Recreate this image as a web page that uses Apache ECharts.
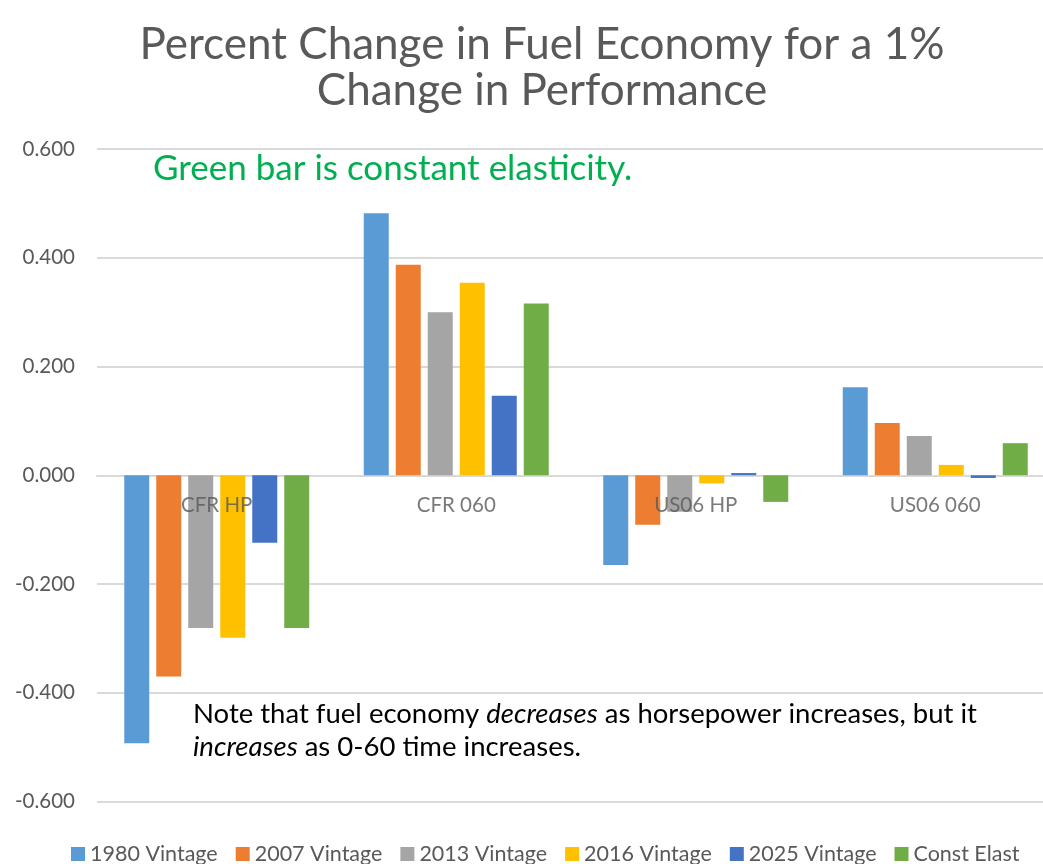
<!DOCTYPE html>
<html>
<head>
<meta charset="utf-8">
<script src="https://cdn.jsdelivr.net/npm/echarts@6/dist/echarts.min.js"></script>
<style>
html,body{margin:0;padding:0;background:#fff;overflow:hidden;width:1043px;height:864px;}
#chart{width:1060px;height:864px;}
</style>
</head>
<body>
<div id="chart"></div>
<script>
const categories = ['CFR HP', 'CFR 060', 'US06 HP', 'US06 060'];
const seriesNames = ['1980 Vintage', '2007 Vintage', '2013 Vintage', '2016 Vintage', '2025 Vintage', 'Const Elast'];
const v1980 = [-0.493, 0.482, -0.165, 0.162];
const v2007 = [-0.370, 0.387, -0.091, 0.096];
const v2013 = [-0.281, 0.300, -0.067, 0.072];
const v2016 = [-0.299, 0.354, -0.015, 0.019];
const v2025 = [-0.124, 0.146, 0.004, -0.005];
const vConst = [-0.281, 0.316, -0.049, 0.059];
const colors = ['#5B9BD5', '#ED7D31', '#A5A5A5', '#FFC000', '#4472C4', '#70AD47'];

const FONT = 'Lato';
const allValues = [v1980, v2007, v2013, v2016, v2025, vConst];

const barSeries = seriesNames.map((n, i) => ({
  name: n, type: 'bar', data: allValues[i],
  barWidth: 25, barGap: '28%',
  itemStyle: {color: colors[i]}
}));

// category labels drawn at the zero line (as the axis crosses at zero)
const catLabelSeries = {
  name: '_catLabels', type: 'scatter', silent: true, symbolSize: 0,
  data: categories.map(c => [c, 0]),
  z: 10,
  label: {
    show: true, position: 'bottom', distance: 20,
    formatter: p => p.data[0],
    fontFamily: FONT, fontSize: 20.5, color: '#595959'
  }
};

const chart = echarts.init(document.getElementById('chart'), null, {renderer: 'canvas'});
chart.setOption({
  animation: false,
  color: colors,
  textStyle: {fontFamily: FONT},
  title: {
    text: 'Percent Change in Fuel Economy for a 1%\nChange in Performance',
    left: 537, textAlign: 'center', top: 17,
    textStyle: {fontFamily: FONT, fontSize: 44, fontWeight: 'normal', color: '#595959', lineHeight: 46}
  },
  legend: {
    top: 838, left: 66,
    itemWidth: 14, itemHeight: 14, itemGap: 18,
    icon: 'rect',
    textStyle: {fontFamily: FONT, fontSize: 21.5, color: '#595959'},
    data: seriesNames
  },
  grid: {left: 97, top: 149, width: 958, height: 652.5, containLabel: false},
  xAxis: {
    type: 'category', data: categories,
    axisLine: {onZero: true, lineStyle: {color: '#D9D9D9', width: 2}},
    axisTick: {show: false},
    axisLabel: {show: false}
  },
  yAxis: {
    type: 'value', min: -0.6, max: 0.6, interval: 0.2,
    axisLine: {show: false}, axisTick: {show: false},
    splitLine: {lineStyle: {color: '#D9D9D9', width: 2}},
    axisLabel: {fontFamily: FONT, fontSize: 20.5, color: '#595959', margin: 22,
      formatter: v => v.toFixed(3)}
  },
  series: barSeries.concat([catLabelSeries]),
  graphic: [
    {type: 'text', left: 153, top: 151,
      style: {text: 'Green bar is constant elasticity.', fill: '#00B050', font: '35px ' + FONT}},
    {type: 'text', left: 193, top: 700,
      style: {
        text: '{n|Note that fuel economy }{i|decreases}{n| as horsepower increases, but it}\n{i|increases}{n| as 0-60 time increases.}',
        rich: {
          n: {fontFamily: FONT, fontSize: 27.5, fill: '#000', lineHeight: 33},
          i: {fontFamily: FONT, fontSize: 27.5, fontStyle: 'italic', fill: '#000', lineHeight: 33}
        }
      }}
  ]
});
</script>
</body>
</html>
